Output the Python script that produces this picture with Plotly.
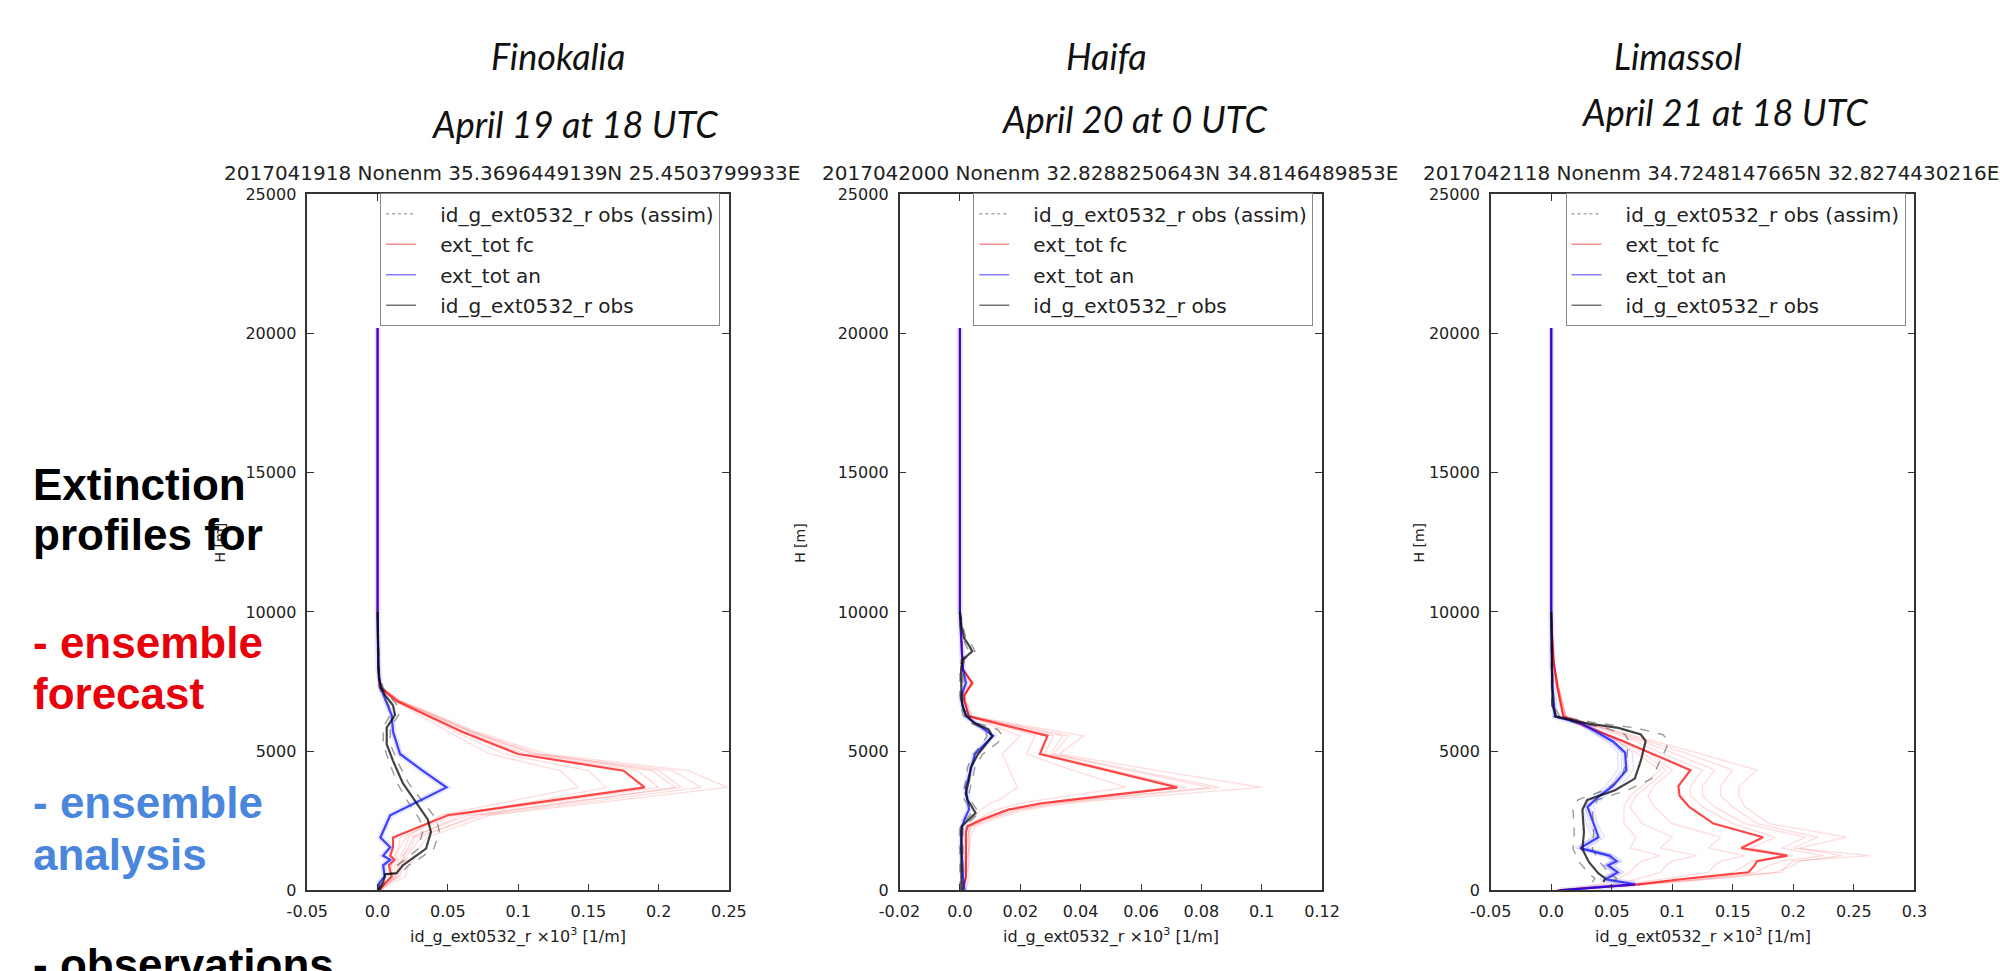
import plotly.graph_objects as go

W, HH = 2000, 971
def px(x): return x / W
def py(y): return 1 - y / HH

# ---------------- DATA ----------------
# Panel 1: Finokalia
h1 = [0, 250, 500, 900, 1100, 1250, 1550, 1900, 2700, 3700, 4300, 4900, 5700, 6300, 6800, 7300, 8000, 10000, 20200]
fc1_mean = [0.001, 0.005, 0.010, 0.008, 0.012, 0.009, 0.011, 0.011, 0.050, 0.190, 0.175, 0.100, 0.060, 0.035, 0.0136, 0.0015, 0.0005, 0.0, 0.0]
an1_mean = [0.0005, 0.001, 0.005, 0.004, 0.009, 0.004, 0.009, 0.002, 0.009, 0.049, 0.032, 0.016, 0.011, 0.010, 0.006, 0.002, 0.0005, 0.0, 0.0]
fc1_members = [
    [0.001, 0.006, 0.012, 0.012, 0.015, 0.013, 0.016, 0.020, 0.045, 0.143, 0.130, 0.080, 0.050, 0.030, 0.012, 0.002, 0.0005, 0, 0],
    [0.001, 0.007, 0.014, 0.015, 0.020, 0.018, 0.022, 0.025, 0.060, 0.163, 0.150, 0.090, 0.055, 0.033, 0.014, 0.002, 0.0005, 0, 0],
    [0.001, 0.005, 0.011, 0.010, 0.014, 0.012, 0.015, 0.016, 0.055, 0.200, 0.185, 0.105, 0.063, 0.037, 0.015, 0.002, 0.0005, 0, 0],
    [0.002, 0.008, 0.016, 0.018, 0.022, 0.020, 0.026, 0.030, 0.070, 0.212, 0.195, 0.110, 0.066, 0.040, 0.016, 0.002, 0.0005, 0, 0],
    [0.001, 0.006, 0.013, 0.014, 0.018, 0.016, 0.020, 0.022, 0.065, 0.216, 0.200, 0.115, 0.068, 0.040, 0.016, 0.002, 0.0005, 0, 0],
    [0.002, 0.010, 0.020, 0.022, 0.026, 0.025, 0.030, 0.035, 0.080, 0.249, 0.221, 0.120, 0.070, 0.042, 0.017, 0.002, 0.0005, 0, 0],
    [0.001, 0.007, 0.015, 0.016, 0.020, 0.018, 0.024, 0.026, 0.075, 0.230, 0.210, 0.112, 0.066, 0.039, 0.015, 0.002, 0.0005, 0, 0],
]
obs_h1 = [0, 300, 580, 620, 900, 1150, 1500, 2100, 2550, 3150, 3850, 4650, 5250, 5850, 6300, 6650, 7000, 7250, 7600, 8500, 10000]
obs1 = [0.0005, 0.004, 0.0055, 0.0135, 0.018, 0.025, 0.0345, 0.038, 0.0357, 0.0275, 0.018, 0.011, 0.0065, 0.0065, 0.0124, 0.011, 0.0054, 0.003, 0.001, 0.0005, 0.0]
obs1_lo = [0.0, 0.002, 0.003, 0.010, 0.014, 0.020, 0.029, 0.032, 0.030, 0.022, 0.014, 0.008, 0.004, 0.004, 0.009, 0.008, 0.003, 0.0015, 0.0005, 0.0, 0.0]
obs1_hi = [0.001, 0.006, 0.008, 0.017, 0.022, 0.030, 0.040, 0.044, 0.042, 0.033, 0.022, 0.014, 0.009, 0.009, 0.015, 0.014, 0.008, 0.0045, 0.0015, 0.001, 0.0]

# Panel 2: Haifa
h2 = [0, 500, 1000, 1500, 2100, 2300, 2550, 2900, 3130, 3250, 3700, 4400, 4900, 5550, 6250, 6800, 7000, 7450, 7950, 10000, 20200]
fc2_mean = [0.001, 0.002, 0.002, 0.002, 0.002, 0.0025, 0.0073, 0.016, 0.027, 0.0365, 0.072, 0.0455, 0.0265, 0.029, 0.003, 0.0015, 0.0014, 0.0041, 0.0009, 0.0, 0.0]
an2_mean = [0.0015, 0.001, 0.0008, 0.0005, 0.0005, 0.0008, 0.0015, 0.003, 0.0028, 0.0025, 0.002, 0.0036, 0.005, 0.011, 0.002, 0.0005, 0.0005, 0.002, 0.001, 0.0, 0.0]
fc2_members = [
    [0.001, 0.002, 0.002, 0.003, 0.003, 0.003, 0.008, 0.017, 0.029, 0.038, 0.075, 0.048, 0.028, 0.031, 0.003, 0.0015, 0.0015, 0.004, 0.001, 0, 0],
    [0.001, 0.002, 0.003, 0.003, 0.003, 0.0035, 0.009, 0.019, 0.031, 0.041, 0.083, 0.052, 0.030, 0.034, 0.0035, 0.0015, 0.0015, 0.004, 0.001, 0, 0],
    [0.001, 0.002, 0.002, 0.002, 0.003, 0.004, 0.009, 0.020, 0.032, 0.043, 0.086, 0.054, 0.031, 0.036, 0.004, 0.002, 0.0015, 0.004, 0.001, 0, 0],
    [0.002, 0.003, 0.003, 0.003, 0.004, 0.005, 0.011, 0.022, 0.036, 0.048, 0.100, 0.060, 0.033, 0.041, 0.004, 0.002, 0.0015, 0.0045, 0.001, 0, 0],
    [0.001, 0.002, 0.002, 0.002, 0.002, 0.003, 0.006, 0.012, 0.020, 0.027, 0.055, 0.035, 0.022, 0.025, 0.003, 0.0015, 0.0015, 0.004, 0.001, 0, 0],
    [0.001, 0.001, 0.002, 0.002, 0.002, 0.002, 0.004, 0.007, 0.010, 0.013, 0.019, 0.016, 0.014, 0.020, 0.003, 0.0015, 0.0015, 0.0035, 0.001, 0, 0],
]
obs_h2 = [0, 500, 1000, 1500, 2000, 2300, 2550, 2780, 3000, 3250, 3480, 3950, 4420, 4890, 5300, 5540, 5780, 6010, 6300, 6600, 7000, 7500, 7960, 8300, 8590, 8800, 9060, 9500, 10000]
obs2 = [0.0005, 0.0005, 0.0003, 0.0005, 0.0003, 0.0005, 0.003, 0.0052, 0.004, 0.0025, 0.0019, 0.003, 0.0036, 0.006, 0.009, 0.0107, 0.0095, 0.0047, 0.002, 0.0009, 0.0005, 0.0005, 0.0004, 0.001, 0.0041, 0.003, 0.0014, 0.0005, 0.0]
obs2_lo = [0.0, 0.0, 0.0, 0.0, 0.0, 0.0, 0.002, 0.004, 0.003, 0.0015, 0.001, 0.002, 0.0025, 0.0045, 0.0075, 0.009, 0.008, 0.0035, 0.001, 0.0005, 0.0, 0.0, 0.0, 0.0005, 0.003, 0.002, 0.001, 0.0, 0.0]
obs2_hi = [0.001, 0.001, 0.001, 0.001, 0.001, 0.001, 0.004, 0.0065, 0.005, 0.0035, 0.003, 0.004, 0.005, 0.0075, 0.0125, 0.0143, 0.0125, 0.006, 0.003, 0.0015, 0.001, 0.001, 0.001, 0.0015, 0.005, 0.004, 0.002, 0.001, 0.0]

# Panel 3: Limassol
h3 = [0, 220, 400, 650, 900, 1050, 1250, 1520, 1910, 2400, 3000, 3400, 3750, 4320, 4950, 5350, 6000, 6250, 7300, 8200, 9200, 10000, 20200]
fc3_mean = [0.005, 0.072, 0.107, 0.163, 0.168, 0.170, 0.195, 0.157, 0.175, 0.134, 0.114, 0.106, 0.105, 0.115, 0.081, 0.060, 0.022, 0.010, 0.005, 0.002, 0.0006, 0.0, 0.0]
an3_mean = [0.007, 0.069, 0.045, 0.055, 0.047, 0.054, 0.048, 0.024, 0.039, 0.035, 0.030, 0.040, 0.051, 0.062, 0.061, 0.051, 0.025, 0.003, 0.001, 0.0005, 0.0002, 0.0, 0.0]
fc3_members = [
    [0.005, 0.075, 0.120, 0.170, 0.180, 0.190, 0.225, 0.190, 0.210, 0.160, 0.135, 0.125, 0.125, 0.135, 0.100, 0.075, 0.030, 0.012, 0.006, 0.002, 0.0006, 0, 0],
    [0.005, 0.080, 0.130, 0.190, 0.195, 0.200, 0.263, 0.200, 0.220, 0.170, 0.150, 0.140, 0.140, 0.150, 0.110, 0.080, 0.030, 0.012, 0.006, 0.002, 0.0006, 0, 0],
    [0.005, 0.078, 0.125, 0.185, 0.200, 0.205, 0.240, 0.205, 0.244, 0.180, 0.160, 0.155, 0.155, 0.170, 0.120, 0.085, 0.030, 0.012, 0.006, 0.002, 0.0006, 0, 0],
    [0.005, 0.060, 0.090, 0.130, 0.135, 0.140, 0.160, 0.130, 0.140, 0.100, 0.085, 0.080, 0.085, 0.100, 0.080, 0.060, 0.025, 0.010, 0.005, 0.002, 0.0006, 0, 0],
    [0.005, 0.050, 0.070, 0.090, 0.095, 0.100, 0.120, 0.090, 0.100, 0.075, 0.065, 0.070, 0.080, 0.095, 0.075, 0.058, 0.025, 0.010, 0.005, 0.002, 0.0006, 0, 0],
    [0.005, 0.068, 0.105, 0.150, 0.160, 0.165, 0.200, 0.165, 0.185, 0.150, 0.125, 0.115, 0.115, 0.125, 0.090, 0.070, 0.028, 0.011, 0.006, 0.002, 0.0006, 0, 0],
    [0.005, 0.040, 0.055, 0.065, 0.070, 0.075, 0.090, 0.065, 0.070, 0.060, 0.060, 0.065, 0.075, 0.090, 0.070, 0.055, 0.024, 0.010, 0.005, 0.002, 0.0006, 0, 0],
]
an3_members = [
    [0.008, 0.060, 0.040, 0.050, 0.043, 0.050, 0.045, 0.020, 0.034, 0.029, 0.026, 0.035, 0.045, 0.055, 0.055, 0.046, 0.022, 0.003, 0.001, 0.0005, 0.0002, 0, 0],
    [0.007, 0.075, 0.050, 0.060, 0.052, 0.058, 0.052, 0.029, 0.044, 0.038, 0.035, 0.045, 0.057, 0.068, 0.067, 0.056, 0.028, 0.004, 0.001, 0.0005, 0.0002, 0, 0],
    [0.006, 0.065, 0.043, 0.052, 0.045, 0.051, 0.046, 0.022, 0.037, 0.031, 0.028, 0.038, 0.049, 0.058, 0.058, 0.049, 0.023, 0.003, 0.001, 0.0005, 0.0002, 0, 0],
]
obs_h3 = [300, 430, 610, 1020, 1490, 2080, 2900, 3250, 3600, 4015, 4660, 5010, 5365, 5600, 5835, 6010, 6245, 6650, 8000, 10000]
obs3 = [0.043, 0.0446, 0.039, 0.031, 0.0257, 0.027, 0.0257, 0.0297, 0.0527, 0.069, 0.074, 0.0757, 0.078, 0.074, 0.0554, 0.028, 0.004, 0.001, 0.0005, 0.0]
obs3_lo = [0.034, 0.036, 0.031, 0.023, 0.018, 0.019, 0.018, 0.022, 0.044, 0.058, 0.062, 0.063, 0.064, 0.061, 0.045, 0.020, 0.002, 0.0005, 0.0, 0.0]
obs3_hi = [0.052, 0.054, 0.048, 0.040, 0.034, 0.035, 0.034, 0.038, 0.063, 0.083, 0.090, 0.094, 0.097, 0.092, 0.070, 0.038, 0.007, 0.002, 0.001, 0.0]

stations = ["Finokalia", "Haifa", "Limassol"]
dates = ["April 19 at 18 UTC", "April 20 at 0 UTC", "April 21 at 18 UTC"]
panel_titles = [
    "2017041918 Nonenm 35.3696449139N 25.4503799933E",
    "2017042000 Nonenm 32.8288250643N 34.8146489853E",
    "2017042118 Nonenm 34.7248147665N 32.8274430216E",
]
x_ranges = [[-0.05, 0.25], [-0.02, 0.12], [-0.05, 0.30]]
x_tickvals = [
    [-0.05, 0.0, 0.05, 0.1, 0.15, 0.2, 0.25],
    [-0.02, 0.0, 0.02, 0.04, 0.06, 0.08, 0.1, 0.12],
    [-0.05, 0.0, 0.05, 0.1, 0.15, 0.2, 0.25, 0.3],
]
x_ticktext = [
    ["-0.05", "0.0", "0.05", "0.1", "0.15", "0.2", "0.25"],
    ["-0.02", "0.0", "0.02", "0.04", "0.06", "0.08", "0.1", "0.12"],
    ["-0.05", "0.0", "0.05", "0.1", "0.15", "0.2", "0.25", "0.3"],
]
y_tickvals = [0, 5000, 10000, 15000, 20000, 25000]
legend_labels = ["id_g_ext0532_r obs (assim)", "ext_tot fc", "ext_tot an", "id_g_ext0532_r obs"]

# ---------------- STYLE / LAYOUT ----------------
plot_left = [292, 896, 1499]
plot_right = [722, 1327, 1931]
plot_top, plot_bottom = 189, 899
title_cx = [501, 1111, 1724]
ylabel_x = [203, 795, 1426]
station_xy = [(548, 48), (1107, 48), (1690, 48)]
date_xy = [(565, 117), (1135, 112), (1737, 105)]

FC_MEM = "rgba(255,0,0,0.14)"
FC_MEAN = "rgba(255,0,0,0.72)"
AN_MEM = "rgba(0,0,255,0.12)"
AN_MEAN = "rgba(0,0,255,0.72)"
OBS_C = "rgba(0,0,0,0.72)"
OBS_ERR = "rgba(70,70,70,0.55)"
ASSIM_C = "rgba(150,150,150,0.5)"

panels = [
    dict(h=h1, fc=fc1_mean, an=an1_mean, fcm=fc1_members, anm=[], oh=obs_h1, o=obs1, lo=obs1_lo, hi=obs1_hi),
    dict(h=h2, fc=fc2_mean, an=an2_mean, fcm=fc2_members, anm=[], oh=obs_h2, o=obs2, lo=obs2_lo, hi=obs2_hi),
    dict(h=h3, fc=fc3_mean, an=an3_mean, fcm=fc3_members, anm=an3_members, oh=obs_h3, o=obs3, lo=obs3_lo, hi=obs3_hi),
]

fig = go.Figure()
FONT = "DejaVu Sans"
annotations = []
layout_axes = {}
NBSP = "\u00a0\u00a0\u00a0"

legend_styles = [
    dict(color="rgba(160,160,160,0.9)", width=1.5, dash="dot"),
    dict(color="rgba(255,0,0,0.45)", width=1.5),
    dict(color="rgba(0,0,255,0.5)", width=1.5),
    dict(color="rgba(0,0,0,0.55)", width=1.5),
]

for i, p in enumerate(panels):
    sfx = "" if i == 0 else str(i + 1)
    xa, ya = "x" + sfx, "y" + sfx
    leg = "legend" + sfx
    common = dict(xaxis=xa, yaxis=ya, mode="lines", hoverinfo="skip")

    # legend-only entries
    for k, lab in enumerate(legend_labels):
        fig.add_trace(go.Scatter(x=[None], y=[None], name=NBSP + lab, legend=leg, showlegend=True,
                                 legendgroup="g%d_%d" % (i, k), line=legend_styles[k], **common))

    # ensemble forecast members
    for m in p["fcm"]:
        fig.add_trace(go.Scatter(x=m, y=p["h"], showlegend=False, line=dict(color=FC_MEM, width=1.3), **common))
    fig.add_trace(go.Scatter(x=p["fc"], y=p["h"], showlegend=False, line=dict(color=FC_MEAN, width=2.2), **common))
    # ensemble analysis members / halo
    for m in p["anm"]:
        fig.add_trace(go.Scatter(x=m, y=p["h"], showlegend=False, line=dict(color=AN_MEM, width=1.3), **common))
    fig.add_trace(go.Scatter(x=p["an"], y=p["h"], showlegend=False, line=dict(color="rgba(0,0,255,0.10)", width=6), **common))
    fig.add_trace(go.Scatter(x=p["an"], y=p["h"], showlegend=False, line=dict(color=AN_MEAN, width=2.2), **common))
    # observations
    fig.add_trace(go.Scatter(x=p["o"], y=p["oh"], showlegend=False, line=dict(color=ASSIM_C, width=1, dash="dot"), **common))
    fig.add_trace(go.Scatter(x=p["lo"], y=p["oh"], showlegend=False, line=dict(color=OBS_ERR, width=1.4, dash="dash"), **common))
    fig.add_trace(go.Scatter(x=p["hi"], y=p["oh"], showlegend=False, line=dict(color=OBS_ERR, width=1.4, dash="dash"), **common))
    fig.add_trace(go.Scatter(x=p["o"], y=p["oh"], showlegend=False, line=dict(color=OBS_C, width=2.2), **common))

    axstyle = dict(showline=True, linecolor="#333", linewidth=1.5, mirror="ticks", ticks="inside",
                   ticklen=7, tickwidth=1.2, tickcolor="#333", showgrid=False, zeroline=False,
                   ticklabelstandoff=6, tickfont=dict(family=FONT, size=16, color="#222"))
    layout_axes["xaxis" + sfx] = dict(domain=[px(plot_left[i]), px(plot_right[i])], range=x_ranges[i],
                                       tickvals=x_tickvals[i], ticktext=x_ticktext[i], anchor=ya, **axstyle)
    layout_axes["yaxis" + sfx] = dict(domain=[py(plot_bottom), py(plot_top)], range=[0, 25000],
                                       tickvals=y_tickvals, ticktext=[str(v) for v in y_tickvals], anchor=xa, **axstyle)
    layout_axes[leg] = dict(x=px(plot_right[i] - 9), xanchor="right", y=py(188), yanchor="top",
                            bgcolor="white", bordercolor="#888", borderwidth=1, itemwidth=30,
                            font=dict(family=FONT, size=20, color="#222"), tracegroupgap=1.5)

    annotations.append(dict(x=px(title_cx[i]), y=py(167), xref="paper", yref="paper", text=panel_titles[i],
                            showarrow=False, xanchor="center", yanchor="middle",
                            font=dict(family=FONT, size=20, color="#222")))
    annotations.append(dict(x=px((plot_left[i] + plot_right[i]) / 2), y=py(945), xref="paper", yref="paper",
                            text="id_g_ext0532_r ×10<sup>3</sup> [1/m]",
                            showarrow=False, xanchor="center", yanchor="middle",
                            font=dict(family=FONT, size=16, color="#222")))
    annotations.append(dict(x=px(ylabel_x[i]), y=py((plot_top + plot_bottom) / 2), xref="paper", yref="paper",
                            text="H [m]", textangle=-90, showarrow=False, xanchor="center", yanchor="middle",
                            font=dict(family=FONT, size=14, color="#222")))
    annotations.append(dict(x=px(station_xy[i][0]), y=py(station_xy[i][1]), xref="paper", yref="paper",
                            text="<i>" + stations[i] + "</i>", showarrow=False, xanchor="center", yanchor="middle",
                            font=dict(family="Lato", size=36, color="#111")))
    annotations.append(dict(x=px(date_xy[i][0]), y=py(date_xy[i][1]), xref="paper", yref="paper",
                            text="<i>" + dates[i] + "</i>", showarrow=False, xanchor="center", yanchor="middle",
                            font=dict(family="Lato", size=36, color="#111")))

# left-hand slide text
side_lines = [
    ("Extinction", "#000000", 485),
    ("profiles for", "#000000", 536),
    ("- ensemble", "#e8000b", 646),
    ("forecast", "#e8000b", 698),
    ("- ensemble", "#4a86dc", 809),
    ("analysis", "#4a86dc", 862),
    ("- observations", "#000000", 975),
]
for txt, col, yc in side_lines:
    annotations.append(dict(x=px(10), y=py(yc), xref="paper", yref="paper", text="<b>" + txt + "</b>",
                            showarrow=False, xanchor="left", yanchor="middle",
                            font=dict(family="Liberation Sans", size=44, color=col)))

fig.update_layout(width=W, height=HH, margin=dict(l=0, r=0, t=0, b=0),
                  paper_bgcolor="white", plot_bgcolor="white",
                  annotations=annotations, **layout_axes)

fig.write_html("out.html", config={"displayModeBar": False},
               post_script="document.body.style.margin='0';")
